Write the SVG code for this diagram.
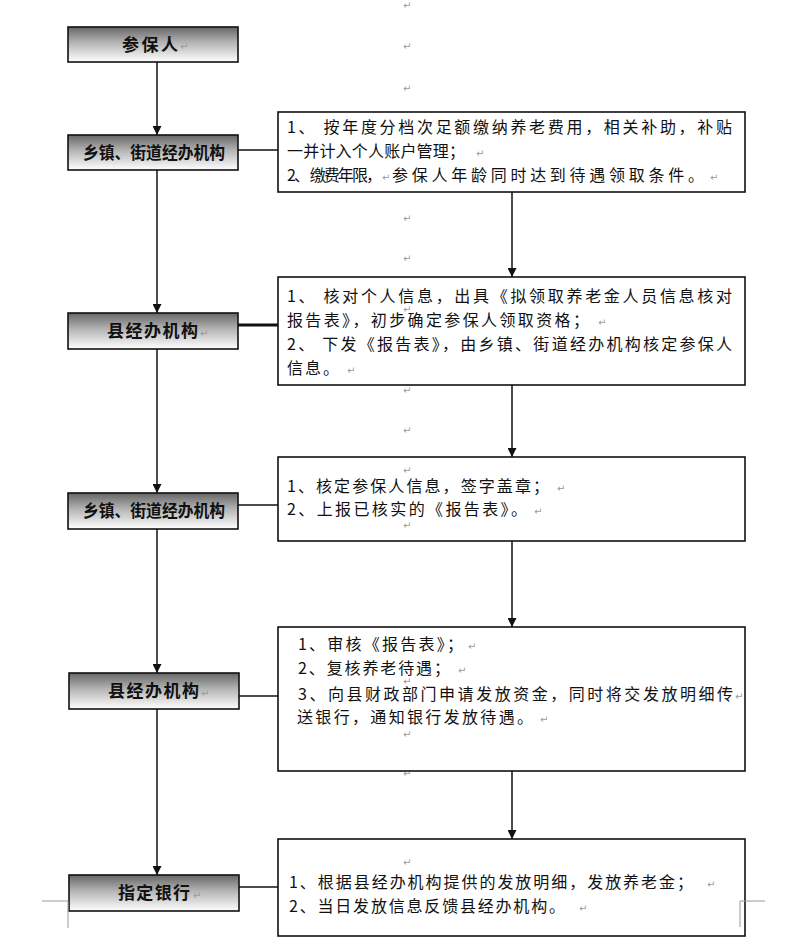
<svg xmlns="http://www.w3.org/2000/svg" width="800" height="948" viewBox="0 0 800 948">
<defs>
<linearGradient id="g" x1="0" y1="0" x2="0" y2="1">
<stop offset="0" stop-color="#666666"/>
<stop offset="0.45" stop-color="#b5b5b5"/>
<stop offset="1" stop-color="#ffffff"/>
</linearGradient>
<marker id="ah" viewBox="0 0 10 10" refX="10" refY="5" markerWidth="9" markerHeight="9" markerUnits="userSpaceOnUse" orient="auto">
<path d="M0,0 L10,5 L0,10 Z" fill="#111"/>
</marker>
<style>
.lb{fill:url(#g);stroke:#111;stroke-width:1.6}
.rb{fill:#fff;stroke:#111;stroke-width:1.6}
.lt{font-family:"Noto Sans CJK SC","Noto Sans",sans-serif;font-size:17px;font-weight:bold;fill:#111}
.rt{font-family:"Noto Sans CJK SC","Noto Sans",sans-serif;font-size:16px;fill:#111}
.pm{font-family:"DejaVu Sans",sans-serif;font-size:10px;fill:#9a9a9a}
.ln{stroke:#111;stroke-width:1.5;fill:none}
.ar{stroke:#111;stroke-width:1.5;fill:none;marker-end:url(#ah)}
.cm{stroke:#9a9a9a;stroke-width:1;fill:none}
</style>
</defs>
<rect width="800" height="948" fill="#fff"/>

<g id="marks">
<text class="pm" x="403" y="9">↵</text>
<text class="pm" x="403" y="50">↵</text>
<text class="pm" x="403" y="92">↵</text>
<text class="pm" x="403" y="222">↵</text>
<text class="pm" x="403" y="262">↵</text>
<text class="pm" x="403" y="394">↵</text>
<text class="pm" x="403" y="434">↵</text>
<text class="pm" x="403" y="777">↵</text>
</g>

<g id="connectors">
<path class="ar" d="M157,62 V135"/>
<path class="ar" d="M157,170 V313"/>
<path class="ar" d="M157,349 V493"/>
<path class="ar" d="M157,529 V673"/>
<path class="ar" d="M157,709 V875"/>
<path class="ar" d="M512,192 V277"/>
<path class="ar" d="M512,385 V457"/>
<path class="ar" d="M512,541 V627"/>
<path class="ar" d="M512,771 V839"/>
<path class="ln" d="M238,150 H278"/>
<path class="ln" d="M238,325 H278" style="stroke-width:3"/>
<path class="ln" d="M238,505 H278"/>
<path class="ln" d="M238,696 H278"/>
<path class="ln" d="M238,887 H278"/>
</g>

<g id="n1">
<rect class="lb" x="68" y="27" width="170" height="35"/>
<text class="lt" x="122" y="50.5" textLength="56">参保人</text>
<text class="pm" x="180" y="50">↵</text>
</g>
<g id="n2">
<rect class="lb" x="68" y="135" width="170" height="35"/>
<text class="lt" x="83" y="158.5" textLength="142" lengthAdjust="spacingAndGlyphs">乡镇、街道经办机构</text>
</g>
<g id="n3">
<rect class="lb" x="68" y="313" width="170" height="36"/>
<text class="lt" x="107" y="337" textLength="91">县经办机构</text>
<text class="pm" x="200" y="337">↵</text>
</g>
<g id="n4">
<rect class="lb" x="68" y="493" width="170" height="36"/>
<text class="lt" x="83" y="517" textLength="142" lengthAdjust="spacingAndGlyphs">乡镇、街道经办机构</text>
</g>
<g id="n5">
<rect class="lb" x="69" y="673" width="170" height="36"/>
<text class="lt" x="108" y="697" textLength="91">县经办机构</text>
<text class="pm" x="201" y="697">↵</text>
</g>
<g id="n6">
<rect class="lb" x="69" y="875" width="170" height="36"/>
<text class="lt" x="118" y="899" textLength="72">指定银行</text>
<text class="pm" x="193" y="899">↵</text>
</g>

<g id="r1">
<rect class="rb" x="278" y="112" width="467" height="80"/>
<text class="rt" x="287" y="133" textLength="445">1、 按年度分档次足额缴纳养老费用，相关补助，补贴</text>
<text class="rt" x="287" y="157" textLength="178">一并计入个人账户管理；</text>
<text class="pm" x="476" y="157">↵</text>
<text class="rt" x="287" y="181" textLength="95">2、 缴费年限，</text>
<text class="pm" x="382" y="181">↵</text>
<text class="rt" x="392" y="181" textLength="312">参保人年龄同时达到待遇领取条件。</text>
<text class="pm" x="710" y="181">↵</text>
</g>

<g id="r2">
<rect class="rb" x="278" y="277" width="467" height="108"/>
<text class="pm" x="403" y="313">↵</text>
<text class="rt" x="287" y="302" textLength="445">1、 核对个人信息，出具《拟领取养老金人员信息核对</text>
<text class="rt" x="287" y="326" textLength="302">报告表》，初步确定参保人领取资格；</text>
<text class="pm" x="598" y="326">↵</text>
<text class="rt" x="287" y="350" textLength="445">2、 下发《报告表》，由乡镇、街道经办机构核定参保人</text>
<text class="rt" x="287" y="374" textLength="52">信息。</text>
<text class="pm" x="347" y="374">↵</text>
</g>

<g id="r3">
<rect class="rb" x="278" y="457" width="467" height="84"/>
<text class="pm" x="403" y="474">↵</text>
<text class="rt" x="287" y="492" textLength="262">1、核定参保人信息，签字盖章；</text>
<text class="pm" x="557" y="492">↵</text>
<text class="rt" x="287" y="515" textLength="240">2、上报已核实的《报告表》。</text>
<text class="pm" x="534" y="515">↵</text>
<text class="pm" x="403" y="529">↵</text>
</g>

<g id="r4">
<rect class="rb" x="278" y="627" width="467" height="144"/>
<text class="rt" x="298" y="650" textLength="165">1、审核《报告表》；</text>
<text class="pm" x="468" y="650">↵</text>
<text class="rt" x="298" y="674" textLength="152">2、复核养老待遇；</text>
<text class="pm" x="458" y="674">↵</text>
<text class="pm" x="403" y="685">↵</text>
<text class="rt" x="298" y="700" textLength="435">3、向县财政部门申请发放资金，同时将交发放明细传</text>
<text class="pm" x="735" y="700">↵</text>
<text class="rt" x="297" y="723" textLength="236">送银行，通知银行发放待遇。</text>
<text class="pm" x="540" y="723">↵</text>
<text class="pm" x="403" y="738">↵</text>
</g>

<g id="r5">
<rect class="rb" x="278" y="839" width="467" height="97"/>
<text class="pm" x="403" y="866">↵</text>
<text class="rt" x="289" y="888" textLength="404">1、根据县经办机构提供的发放明细，发放养老金；</text>
<text class="pm" x="707" y="888">↵</text>
<text class="rt" x="289" y="912" textLength="276">2、当日发放信息反馈县经办机构。</text>
<text class="pm" x="579" y="912">↵</text>
</g>

<g id="corners">
<path class="cm" d="M42,901 H68 V928"/>
<path class="cm" d="M765,901 H740 V927"/>
</g>
</svg>
